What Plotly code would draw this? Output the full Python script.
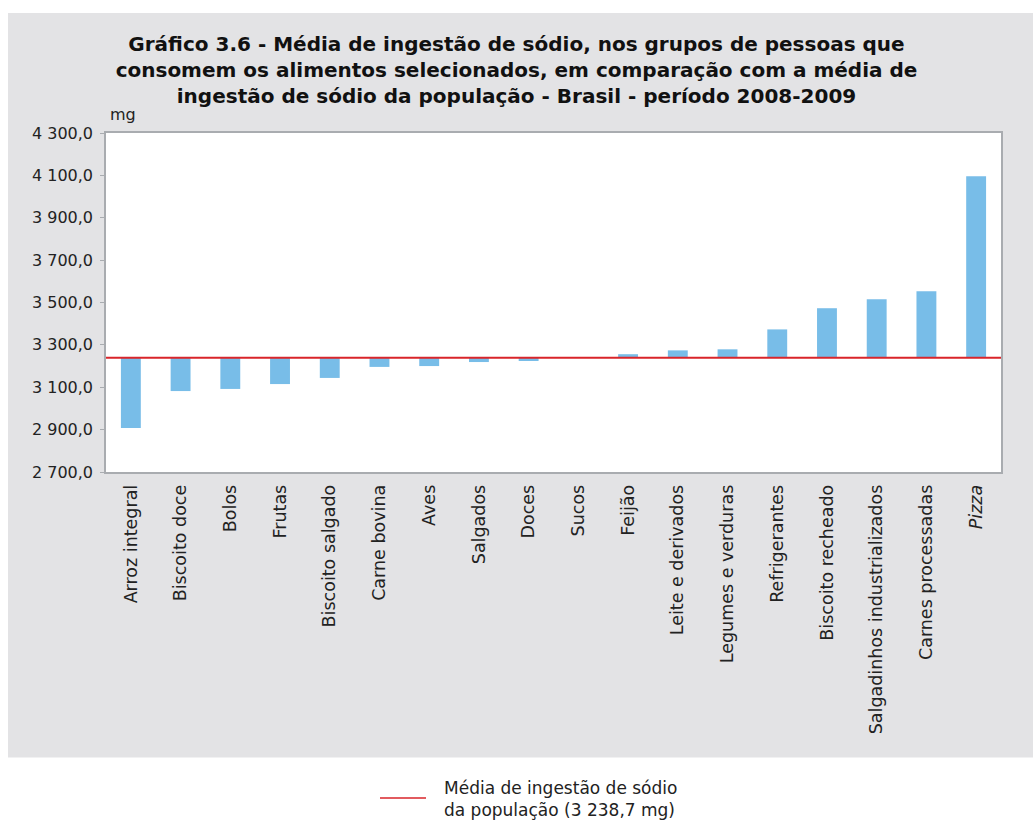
import plotly.graph_objects as go

categories = ["Arroz integral", "Biscoito doce", "Bolos", "Frutas", "Biscoito salgado",
              "Carne bovina", "Aves", "Salgados", "Doces", "Sucos", "Feijão",
              "Leite e derivados", "Legumes e verduras", "Refrigerantes",
              "Biscoito recheado", "Salgadinhos industrializados",
              "Carnes processadas", "Pizza"]
tick_labels = ["Arroz integral", "Biscoito doce", "Bolos", "Frutas", "Biscoito salgado",
               "Carne bovina", "Aves", "Salgados", "Doces", "Sucos", "Feijão",
               "Leite e derivados", "Legumes e verduras", "Refrigerantes",
               "Biscoito recheado", "Salgadinhos industrializados",
               "Carnes processadas", "<i>Pizza</i>"]
sodium_mg = [2908, 3082, 3092, 3115, 3144, 3196, 3200, 3219, 3224, 3240, 3256,
             3274, 3279, 3373, 3473, 3515, 3553, 4096]
population_mean = 3238.7
y_ticks = [2700, 2900, 3100, 3300, 3500, 3700, 3900, 4100, 4300]
y_tick_labels = ["2 700,0", "2 900,0", "3 100,0", "3 300,0", "3 500,0",
                 "3 700,0", "3 900,0", "4 100,0", "4 300,0"]

FONT = "DejaVu Sans, sans-serif"
GRAY = "#e3e3e5"

# plot area in pixels: x 106..1001, y 133..472
L, R, T, B = 106, 1001, 133, 472
W, H = R - L, B - T


def px(x):
    return (x - L) / W


def py(y):
    return (B - y) / H


fig = go.Figure()
fig.add_trace(go.Bar(
    x=categories,
    y=[v - population_mean for v in sodium_mg],
    base=population_mean,
    marker=dict(color="#78bde8", line=dict(width=0)),
    width=0.4,
    showlegend=False,
))

shapes = [
    dict(type="rect", xref="paper", yref="paper", layer="below",
         x0=px(8), x1=px(1040), y0=py(757.5), y1=py(13),
         fillcolor=GRAY, line=dict(width=0)),
    dict(type="rect", xref="paper", yref="paper", layer="below",
         x0=0, x1=1, y0=0, y1=1, fillcolor="white", line=dict(width=0)),
    dict(type="line", xref="paper", yref="y", x0=0, x1=1,
         y0=population_mean, y1=population_mean,
         line=dict(color="#d9252a", width=2)),
    dict(type="line", xref="paper", yref="paper",
         x0=px(380), x1=px(426), y0=py(798), y1=py(798),
         line=dict(color="#d9252a", width=1.5)),
]

annotations = [
    dict(text="mg", xref="paper", yref="paper", x=px(108),
         y=py(115), xanchor="left", yanchor="middle", showarrow=False,
         font=dict(family=FONT, size=16, color="#222")),
    dict(text="Média de ingestão de sódio<br>da população (3 238,7 mg)",
         xref="paper", yref="paper", x=px(442), y=py(799),
         xanchor="left", yanchor="middle", align="left", showarrow=False,
         font=dict(family=FONT, size=17, color="#222")),
]

fig.update_layout(
    width=1033, height=821,
    margin=dict(l=L, r=1033 - R, t=T, b=821 - B),
    paper_bgcolor="white",
    plot_bgcolor="white",
    title=dict(
        text="<b>Gráfico 3.6 - Média de ingestão de sódio, nos grupos de pessoas que<br>"
             "consomem os alimentos selecionados, em comparação com a média de<br>"
             "ingestão de sódio da população - Brasil - período 2008-2009</b>",
        x=0.5, xanchor="center", y=1 - 51 / 821, yanchor="middle",
        font=dict(family=FONT, size=20, color="#111"),
    ),
    font=dict(family=FONT, size=16, color="#222"),
    xaxis=dict(
        tickmode="array", tickvals=categories, ticktext=tick_labels,
        tickangle=-90, showline=True, mirror=True, linecolor="#a9acb0",
        linewidth=1.5, ticks="", showgrid=False, ticklabelstandoff=4,
        tickfont=dict(family=FONT, size=17.5, color="#222"),
    ),
    yaxis=dict(
        range=[2700, 4300], tickmode="array", tickvals=y_ticks,
        ticktext=y_tick_labels, showline=True, mirror=True,
        linecolor="#a9acb0", linewidth=1.5, ticks="outside", ticklen=4,
        tickcolor="#a9acb0", showgrid=False, zeroline=False,
        ticklabelstandoff=4,
        tickfont=dict(family=FONT, size=16, color="#222"),
    ),
    shapes=shapes,
    annotations=annotations,
)

fig.write_html("out.html", config={"displayModeBar": False},
               post_script="document.body.style.margin='0';document.body.style.overflow='hidden';")
